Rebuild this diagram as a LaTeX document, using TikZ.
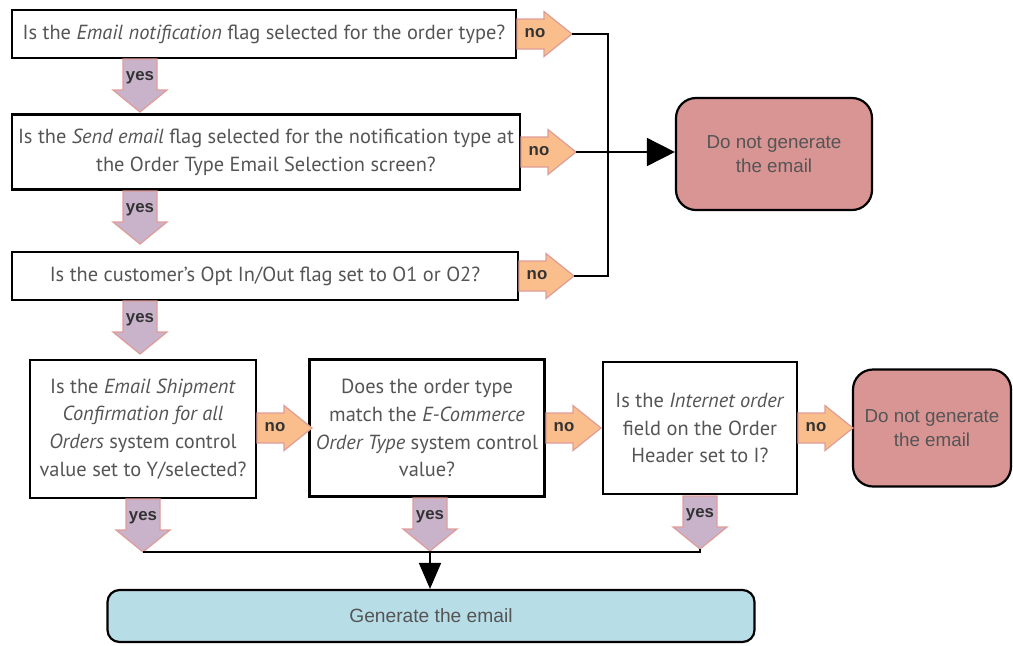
\documentclass[tikz,border=0pt]{standalone}
\usepackage{fontspec}
\setmainfont{PT Sans}
\newfontfamily\arialfont{Liberation Sans}
\usetikzlibrary{shapes,positioning,calc,arrows.meta}
\usepackage{xcolor}
\definecolor{qtext}{HTML}{555555}
\definecolor{stopred}{HTML}{D99494}
\definecolor{gocyan}{HTML}{B7DDE7}
\definecolor{nofill}{HTML}{F9BE8C}
\definecolor{yesfill}{HTML}{C9B3CB}
\definecolor{flowedge}{HTML}{DE9C98}

\begin{document}
\begin{tikzpicture}[x=0.5pt,y=-0.5pt,>={Latex},
	question/.style={draw,line width=1.1pt,fill=white,text=qtext,align=center,inner sep=1pt,
		font=\fontsize{10.2}{13.9}\selectfont},
	stopbox/.style={draw,line width=1.1pt,rounded corners=10pt,fill=stopred,text=qtext,align=center,
		font=\arialfont\fontsize{9.4}{12}\selectfont},
	gobox/.style={draw,line width=1.1pt,rounded corners=6pt,fill=gocyan,text=qtext,
		font=\arialfont\fontsize{9.6}{12}\selectfont},
	flag/.style={font=\arialfont\bfseries\fontsize{8.4}{9}\selectfont,text=black!80,inner sep=0pt},
	flowedge/.style={draw=flowedge,line width=0.6pt},
	wire/.style={line width=0.9pt},
	% fat arrow pointing right, labelled no
	noflow/.pic={
		\path[flowedge,fill=nofill] (0,7.5pt) -- (13.5pt,7.5pt) -- (13.5pt,11.25pt) -- (27.5pt,0)
			-- (13.5pt,-11.25pt) -- (13.5pt,-7.5pt) -- (0,-7.5pt) -- cycle;
		\coordinate (-tip) at (27.5pt,0);
		\node[flag] (-lbl) at (9pt,0.5pt) {no};
	},
	% fat arrow pointing down, labelled yes
	yesflow/.pic={
		\path[flowedge,fill=yesfill] (-8.5pt,0) -- (-8.5pt,-15.5pt) -- (-13.5pt,-15.5pt) -- (0,-26.5pt)
			-- (13.5pt,-15.5pt) -- (8.5pt,-15.5pt) -- (8.5pt,0) -- cycle;
		\coordinate (-tip) at (0,-26.5pt);
		\node[flag] (-lbl) at (0,-9.5pt) {yes};
	},
	]
	\useasboundingbox (0,0) rectangle (1013,645);

	% questions down the left
	\node[question,minimum width=252pt,minimum height=24pt] (q1) at (264,34)
		{Is the \textit{Email notification} flag selected for the order type?};
	\node[question,minimum width=254pt,minimum height=37.5pt] (q2) at (266,152)
		{Is the \textit{Send email} flag selected for the notification type at\\the Order Type Email Selection screen?};
	\node[question,minimum width=253pt,minimum height=24pt] (q3) at (265,276)
		{Is the customer's Opt In/Out flag set to O1 or O2?};
	\node[stopbox,minimum width=98pt,minimum height=56pt] (stop1) at (774,154)
		{Do not generate\\the email};

	% second row of checks
	\node[question,minimum width=113pt,minimum height=69pt] (q4) at (143,429)
		{Is the \textit{Email Shipment}\\\textit{Confirmation for all}\\\textit{Orders} system control\\value set to Y/selected?};
	\node[question,minimum width=117.5pt,minimum height=68.5pt] (q5) at (427,428)
		{Does the order type\\match the \textit{E-Commerce}\\\textit{Order Type} system control\\value?};
	\node[question,minimum width=97pt,minimum height=66pt] (q6) at (700,428)
		{Is the \textit{Internet order}\\field on the Order\\Header set to I?};
	\node[stopbox,minimum width=79pt,minimum height=58.5pt] (stop2) at (932,428)
		{Do not generate\\the email};
	\node[gobox,minimum width=323.5pt,minimum height=26pt] (go) at (431,616) {Generate the email};

	% no arrows
	\pic (no1) at (517,34) {noflow};
	\pic (no2) at (521,152) {noflow};
	\pic (no3) at (519,276) {noflow};
	\pic (no4) at (257,428) {noflow};
	\pic (no5) at (546,428) {noflow};
	\pic (no6) at (798,428) {noflow};

	% yes arrows
	\pic (yes1) at (140,59) {yesflow};
	\pic (yes2) at (140,191) {yesflow};
	\pic (yes3) at (140,301) {yesflow};
	\pic (yes4) at (143,499) {yesflow};
	\pic (yes5) at (430,498) {yesflow};
	\pic (yes6) at (700,496) {yesflow};

	% wiring
	\coordinate (bus) at (608,0);
	\draw[wire] (no1-tip) -- (no1-tip -| bus) -- (no3-tip -| bus) -- (no3-tip);
	\draw[wire,-{Triangle[length=14pt,width=14pt]}] (no2-tip) -- (no2-tip -| stop1.west);
	\draw[wire] (yes4-tip) -- (yes4-tip -| yes6-tip) -- (yes6-tip);
	\draw[wire,-{Triangle[length=13pt,width=11pt]}] (yes5-tip) -- (go.north -| yes5-tip);

\end{tikzpicture}
\end{document}
